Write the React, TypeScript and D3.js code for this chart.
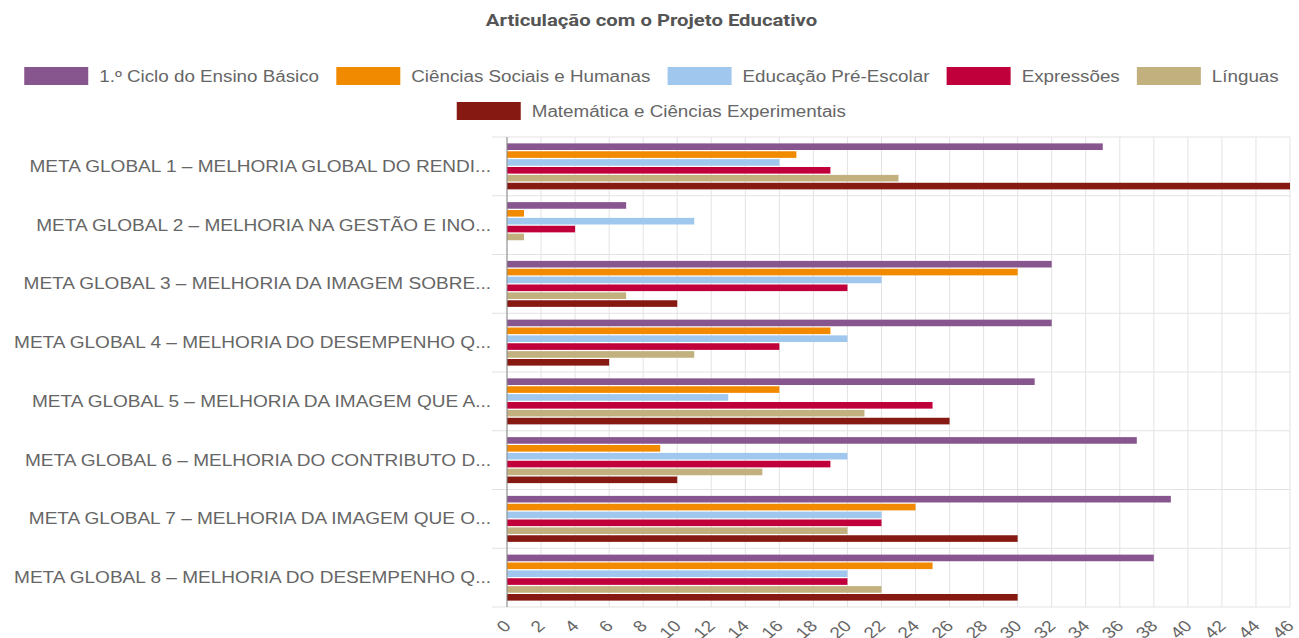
import React from "react";
import * as d3 from "d3";

const categories = [
  "META GLOBAL 1 – MELHORIA GLOBAL DO RENDI...",
  "META GLOBAL 2 – MELHORIA NA GESTÃO E INO...",
  "META GLOBAL 3 – MELHORIA DA IMAGEM SOBRE...",
  "META GLOBAL 4 – MELHORIA DO DESEMPENHO Q...",
  "META GLOBAL 5 – MELHORIA DA IMAGEM QUE A...",
  "META GLOBAL 6 – MELHORIA DO CONTRIBUTO D...",
  "META GLOBAL 7 – MELHORIA DA IMAGEM QUE O...",
  "META GLOBAL 8 – MELHORIA DO DESEMPENHO Q...",
];

const seriesNames = [
  "1.º Ciclo do Ensino Básico",
  "Ciências Sociais e Humanas",
  "Educação Pré-Escolar",
  "Expressões",
  "Línguas",
  "Matemática e Ciências Experimentais",
];

const seriesColors = ["#88568f", "#f28a00", "#a0c8ee", "#c0003a", "#c2b07f", "#861a12"];

const ciclo1 = [35, 7, 32, 32, 31, 37, 39, 38];
const ciencias = [17, 1, 30, 19, 16, 9, 24, 25];
const preEscolar = [16, 11, 22, 20, 13, 20, 22, 20];
const expressoes = [19, 4, 20, 16, 25, 19, 22, 20];
const linguas = [23, 1, 7, 11, 21, 15, 20, 22];
const matematica = [46, 0, 10, 6, 26, 10, 30, 30];

const seriesValues = [ciclo1, ciencias, preEscolar, expressoes, linguas, matematica];

const xTicks = d3.range(0, 47, 2);

const W = 1299;
const H = 638;
const plot = { left: 507, right: 1290, top: 137, bottom: 607 };
const SX = 1.19;
const SX_LEG = 1.175;

function measure(text: string, font: string): number {
  if (typeof document === "undefined") return text.length * 8;
  const c = document.createElement("canvas");
  const ctx = c.getContext("2d")!;
  ctx.font = font;
  return ctx.measureText(text).width;
}

export default function App() {
  const x = d3.scaleLinear().domain([0, 46]).range([plot.left, plot.right]);
  const y = d3
    .scaleBand<string>()
    .domain(categories)
    .range([plot.top, plot.bottom])
    .paddingInner(0.217)
    .paddingOuter(0.1085);
  const yInner = d3
    .scaleBand<number>()
    .domain(d3.range(seriesNames.length))
    .range([0, y.bandwidth()])
    .paddingInner(0.16);

  const step = y.step();
  const boundaries = d3.range(categories.length + 1).map((i) => plot.top + i * step);

  // Legend layout
  const legendFont = "16px Arial";
  const swW = 64;
  const swH = 18;
  const gapText = 11;
  const gapItem = 17;
  const items = seriesNames.map((n, i) => {
    const tw = measure(n, legendFont) * SX_LEG;
    return { n, i, tw, w: swW + gapText + tw };
  });
  const rows = [items.slice(0, 5), items.slice(5)];
  const rowY = [76, 111];

  return (
    <svg width={W} height={H} style={{ position: "absolute", left: 0, top: 0, background: "#fff" }}>
      <g transform="translate(651.5,26) scale(1.27,1)">
        <text x={0} y={0} textAnchor="middle" fontFamily="Roboto, Arial" fontWeight="bold" fontSize={16} fill="#555">
          Articulação com o Projeto Educativo
        </text>
      </g>

      {rows.map((row, ri) => {
        const total = d3.sum(row, (d) => d.w) + gapItem * (row.length - 1);
        let cx = 651.5 - total / 2;
        return row.map((it) => {
          const x0 = cx;
          cx += it.w + gapItem;
          return (
            <g key={it.n}>
              <rect x={x0} y={rowY[ri] - swH / 2} width={swW} height={swH} fill={seriesColors[it.i]} />
              <g transform={`translate(${x0 + swW + gapText},${rowY[ri]}) scale(${SX_LEG},1)`}>
                <text x={0} y={0} dy="0.35em" fontFamily="Arial" fontSize={16} fill="#666">
                  {it.n}
                </text>
              </g>
            </g>
          );
        });
      })}

      {xTicks.map((t) => (
        <line key={"g" + t} x1={x(t)} x2={x(t)} y1={plot.top} y2={plot.bottom} stroke="#e3e3e3" strokeWidth={1} />
      ))}
      {boundaries.map((b, i) => (
        <line key={"b" + i} x1={492} x2={plot.right} y1={b} y2={b} stroke="#e3e3e3" strokeWidth={1} />
      ))}

      {categories.map((c, ci) => (
        <g key={c} transform={`translate(0,${y(c)})`}>
          {seriesValues.map((vals, si) =>
            vals[ci] > 0 ? (
              <rect
                key={si}
                x={x(0)}
                y={yInner(si)}
                width={x(vals[ci]) - x(0)}
                height={yInner.bandwidth()}
                fill={seriesColors[si]}
              />
            ) : null
          )}
        </g>
      ))}

      <line x1={x(0)} x2={x(0)} y1={plot.top} y2={plot.bottom} stroke="#888" strokeWidth={1} />

      {categories.map((c) => (
        <g key={"l" + c} transform={`translate(491,${(y(c) as number) + y.bandwidth() / 2}) scale(${SX},1)`}>
          <text x={0} y={0} dy="0.35em" textAnchor="end" fontFamily="Arial" fontSize={16} fill="#666">
            {c}
          </text>
        </g>
      ))}

      {xTicks.map((t) => (
        <g key={"t" + t} transform={`translate(${x(t) + 5},${plot.bottom + 20}) scale(${SX},1) rotate(-45)`}>
          <text x={0} y={0} textAnchor="end" fontFamily="Arial" fontSize={16} fill="#666">
            {t}
          </text>
        </g>
      ))}
    </svg>
  );
}
